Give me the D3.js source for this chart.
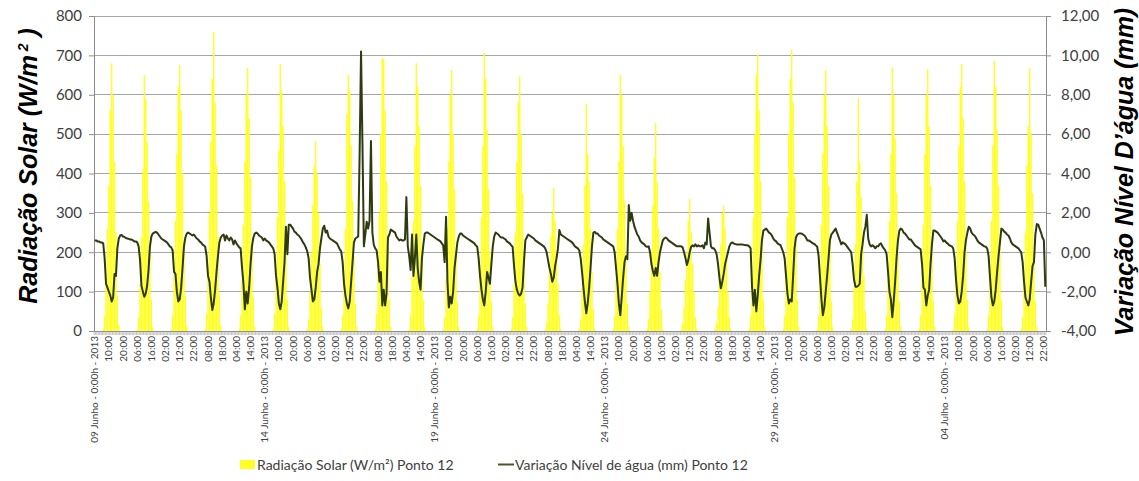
<!DOCTYPE html>
<html><head><meta charset="utf-8">
<script src="https://cdn.jsdelivr.net/npm/d3@7/dist/d3.min.js"></script>
<style>body{margin:0;background:#fff}svg{display:block}</style>
</head><body><svg id="c" width="1139" height="481"></svg>
<script>
// ---- data ----
const radHours = [6,7,8,9,10,11,12,13,14,15,16,17];
// solar radiation (W/m²), one row per day (09 Jun .. 06 Jul 2013), hours 6..17
const radiation = [
[5,40,130,260,370,560,680,600,430,250,90,15],
[5,35,120,240,410,650,590,480,330,200,80,10],
[5,40,140,280,450,620,675,560,400,230,90,15],
[5,45,150,300,480,640,760,580,420,240,95,15],
[5,40,130,270,430,600,668,540,390,220,85,10],
[5,45,140,290,460,678,610,520,380,210,80,10],
[5,30,100,200,320,420,482,400,300,170,60,10],
[5,40,130,260,550,650,610,470,330,190,70,10],
[5,45,150,300,500,694,690,560,380,220,80,10],
[5,40,140,280,470,680,620,520,370,210,80,10],
[5,35,130,260,430,600,663,500,360,200,75,10],
[5,40,140,290,470,707,640,510,360,200,75,10],
[5,35,120,250,430,580,646,500,350,190,70,10],
[5,20,70,150,240,300,363,280,200,120,40,5],
[5,30,110,220,370,576,450,380,260,150,55,5],
[5,40,130,260,430,650,600,470,330,190,70,10],
[5,30,100,200,320,440,528,380,260,150,55,5],
[5,20,60,130,200,280,335,250,170,100,35,5],
[5,20,60,130,220,300,318,260,180,100,35,5],
[5,40,140,290,500,650,703,560,380,210,80,10],
[5,40,140,290,500,640,714,580,390,220,80,10],
[5,40,130,270,450,600,663,520,370,210,75,10],
[5,30,110,220,380,591,430,340,240,140,50,5],
[5,40,130,280,450,669,600,490,350,200,75,10],
[5,40,130,270,450,600,665,520,370,210,75,10],
[5,40,140,280,470,620,678,540,380,210,80,10],
[5,40,140,280,470,686,620,510,370,210,80,10],
[5,35,120,250,420,520,667,500,350,200,75,10]
];
// water level variation (mm), one row per day, hours 0..23
const waterLevel = [
[0.6,0.6,0.55,0.55,0.5,0.5,0.45,-0.3,-1.6,-1.8,-2.0,-2.2,-2.5,-2.3,-1.1,-1.2,0.2,0.7,0.85,0.88,0.8,0.78,0.72,0.7],
[0.68,0.65,0.65,0.6,0.55,0.55,0.5,0.3,-0.4,-1.7,-2.0,-2.26,-2.1,-1.7,-0.9,0.3,0.8,0.95,1.0,1.04,1.0,0.9,0.8,0.7],
[0.65,0.6,0.55,0.5,0.4,0.3,0.25,0.1,-1.0,-1.1,-2.0,-2.5,-2.4,-1.8,-0.8,0.3,0.75,0.95,1.0,0.95,0.9,0.85,0.9,0.8],
[0.7,0.65,0.55,0.5,0.4,0.35,0.28,-0.2,-1.2,-1.5,-2.3,-2.93,-2.6,-1.9,-1.0,-0.2,0.5,0.75,0.85,0.9,0.6,0.85,0.7,0.6],
[0.75,0.65,0.4,0.6,0.45,0.35,0.25,0.2,-0.8,-1.6,-2.9,-2.0,-2.6,-1.8,-0.6,0.3,0.75,0.95,1.0,0.95,0.85,0.8,0.75,0.6],
[0.7,0.6,0.55,0.5,0.4,0.3,0.2,-0.1,-1.2,-1.8,-2.6,-2.9,-2.5,-1.5,-0.5,1.3,-0.1,1.4,1.4,1.3,1.2,1.05,1.0,0.9],
[0.85,0.75,0.65,0.5,0.4,0.25,0.05,-0.3,-1.3,-1.9,-2.5,-2.4,-1.8,-1.0,-0.6,0.2,0.7,1.2,1.35,1.0,1.1,0.8,0.7,0.65],
[0.6,0.55,0.5,0.45,0.3,0.15,0.05,-0.5,-1.6,-2.2,-2.6,-2.85,-2.5,-1.5,-0.5,0.5,0.7,0.75,0.8,5.0,10.2,5.5,0.3,0.9],
[1.55,1.2,1.6,5.65,1.0,0.37,0.2,0.1,-0.5,-1.5,-1.0,-2.7,-1.9,-2.7,-2.1,0.75,0.9,1.15,1.1,1.05,1.0,0.8,0.7,0.6],
[0.65,0.6,0.6,0.65,2.8,0.3,-0.2,-0.9,0.9,-1.2,-0.3,0.9,-0.8,-1.5,-1.9,-0.3,0.4,0.95,1.0,1.0,0.95,0.9,0.85,0.8],
[0.75,0.7,0.65,0.6,0.55,0.45,0.35,-0.5,1.8,-1.5,-2.8,-2.26,-2.6,-2.0,-0.8,-0.15,0.5,0.8,0.95,0.95,0.85,0.8,0.75,0.7],
[0.65,0.6,0.55,0.5,0.45,0.35,0.28,-0.3,-1.2,-1.9,-2.4,-2.7,-2.0,-1.0,-1.3,-1.6,-0.6,0.3,0.8,1.0,0.95,0.9,0.8,0.75],
[0.75,0.7,0.65,0.55,0.5,0.45,0.35,0.28,-0.7,-1.5,-1.9,-2.1,-2.2,-2.1,-1.8,-0.5,0.6,0.75,0.9,0.85,0.8,0.75,0.7,0.6],
[0.55,0.5,0.45,0.4,0.35,0.3,0.2,0.0,-0.4,-0.8,-1.1,-1.5,-1.3,-0.7,-0.3,0.2,1.13,0.9,0.85,0.8,0.75,0.7,0.65,0.6],
[0.55,0.5,0.4,0.3,0.25,0.2,0.1,-0.3,-1.0,-1.8,-2.5,-3.1,-2.6,-1.8,-0.8,0.3,1.0,1.04,0.95,0.95,0.85,0.8,0.75,0.65],
[0.6,0.55,0.5,0.45,0.4,0.35,0.3,0.0,-0.8,-1.6,-2.6,-3.2,-2.3,-1.3,-0.5,-0.2,-0.35,2.4,1.6,2.0,1.6,1.3,1.1,0.9],
[0.8,0.6,0.5,0.45,0.4,0.3,0.28,0.3,0.0,-0.6,-0.95,-1.2,-0.8,-1.2,-0.5,0.0,0.3,0.6,0.7,0.75,0.7,0.6,0.55,0.5],
[0.45,0.4,0.35,0.3,0.3,0.3,0.3,0.25,0.0,-0.3,-0.65,-0.4,0.0,0.28,0.35,0.3,0.4,0.3,0.35,0.3,0.3,0.35,0.2,0.5],
[0.4,1.72,1.0,0.3,0.2,0.2,0.1,-0.1,-0.6,-1.3,-1.83,-1.5,-1.1,-0.6,-0.3,0.0,0.3,0.45,0.5,0.45,0.42,0.4,0.4,0.4],
[0.4,0.4,0.38,0.37,0.35,0.35,0.3,0.2,-1.75,-2.7,-1.9,-3.0,-2.2,-1.2,-0.4,0.6,1.1,1.15,1.2,1.1,1.0,0.95,0.85,0.7],
[0.6,0.55,0.45,0.4,0.37,0.2,0.0,-0.3,-1.2,-2.1,-2.6,-2.4,-2.5,-1.2,0.2,0.75,0.9,0.95,0.95,0.95,0.9,0.85,0.75,0.6],
[0.6,0.55,0.5,0.45,0.42,0.35,0.28,-0.2,-1.3,-2.4,-3.2,-2.8,-2.0,-1.2,-0.3,0.62,0.9,1.0,1.1,1.2,1.0,0.8,0.6,0.4],
[0.5,0.45,0.4,0.3,0.2,0.1,0.0,-0.6,-1.4,-1.75,-1.75,-1.7,-1.6,-0.1,0.4,1.0,1.3,1.9,0.7,0.4,0.3,0.35,0.3,0.2],
[0.3,0.3,0.4,0.45,0.3,0.2,0.1,-0.1,-1.0,-2.0,-2.4,-3.3,-2.5,-1.5,-0.3,0.6,1.1,1.2,1.15,1.0,0.95,0.85,0.75,0.65],
[0.65,0.55,0.45,0.35,0.3,0.25,0.2,0.15,-0.6,-1.8,-1.9,-2.7,-2.2,-1.9,-0.6,0.4,1.1,1.1,1.05,1.0,0.9,0.8,0.7,0.55],
[0.6,0.5,0.45,0.37,0.33,0.3,0.2,-0.3,-1.4,-2.2,-2.6,-2.5,-2.0,-1.2,0.0,0.62,1.0,1.3,1.2,1.0,0.9,0.85,0.75,0.6],
[0.5,0.45,0.4,0.35,0.3,0.28,0.2,-0.2,-1.3,-2.3,-2.7,-2.5,-1.9,-1.0,-0.2,0.5,1.2,1.15,1.05,1.0,0.9,0.85,0.7,0.5],
[0.4,0.35,0.3,0.25,0.2,0.1,0.0,-0.5,-1.5,-2.3,-2.5,-2.7,-2.4,-1.5,-0.7,-0.5,0.9,1.43,1.4,1.2,1.0,0.75,0.6,-1.75]
];
// category-axis labels, one every 10 hourly categories
const xTickLabels = [
"09 Junho - 0:00h - 2013","10:00","20:00","06:00","16:00","02:00","12:00","22:00","08:00","18:00","04:00","14:00",
"14 Junho - 0:00h - 2013","10:00","20:00","06:00","16:00","02:00","12:00","22:00","08:00","18:00","04:00","14:00",
"19 Junho - 0:00h - 2013","10:00","20:00","06:00","16:00","02:00","12:00","22:00","08:00","18:00","04:00","14:00",
"24 Junho - 0:00h - 2013","10:00","20:00","06:00","16:00","02:00","12:00","22:00","08:00","18:00","04:00","14:00",
"29 Junho - 0:00h - 2013","10:00","20:00","06:00","16:00","02:00","12:00","22:00","08:00","18:00","04:00","14:00",
"04 Julho - 0:00h - 2013","10:00","20:00","06:00","16:00","02:00","12:00","22:00"
];
const leftTicks = [0,100,200,300,400,500,600,700,800];
const rightTicks = [-4,-2,0,2,4,6,8,10,12];
const seriesNames = ["Radiação Solar (W/m²) Ponto 12", "Variação Nível de água (mm) Ponto 12"];

// ---- build hourly series ----
const rad = [], wat = [];
radiation.forEach((row, d) => {
  for (let h = 0; h < 24; h++) {
    const k = radHours.indexOf(h);
    rad.push(k >= 0 ? row[k] : 0);
    wat.push(waterLevel[d][h]);
  }
});
const N = wat.length;

// ---- layout ----
const svg = d3.select("#c");
const L = 94, R = 1046, T = 16, B = 331;
const x = d3.scaleBand().domain(d3.range(N)).range([L, R]).padding(0);
const bw = x.bandwidth();
const yL = d3.scaleLinear().domain([0, 800]).range([B, T]);
const yR = d3.scaleLinear().domain([-4, 12]).range([B, T]);
const gridCol = "#a6a6a6", axisCol = "#8c8c8c", txtCol = "#404040";
const numFont = "Lato, 'Open Sans', sans-serif";

// gridlines
svg.append("g").selectAll("line").data(leftTicks.filter(v => v > 0)).join("line")
  .attr("x1", L).attr("x2", R).attr("y1", d => yL(d)).attr("y2", d => yL(d))
  .attr("stroke", gridCol).attr("stroke-width", 1).attr("shape-rendering", "crispEdges");

// radiation bars
svg.append("g").selectAll("rect").data(rad.map((v, i) => ({v, i})).filter(d => d.v > 0)).join("rect")
  .attr("x", d => x(d.i)).attr("width", bw)
  .attr("y", d => yL(d.v)).attr("height", d => B - yL(d.v))
  .attr("fill", "#ffff26");

// axes
const gl = svg.append("g").attr("transform", `translate(${L},0)`)
  .call(d3.axisLeft(yL).tickValues(leftTicks).tickSize(5).tickPadding(7));
const gr = svg.append("g").attr("transform", `translate(${R},0)`)
  .call(d3.axisRight(yR).tickValues(rightTicks).tickSize(5).tickPadding(10)
    .tickFormat(d => d.toFixed(2).replace(".", ",")));
[gl, gr].forEach(g => {
  g.select(".domain").attr("stroke", axisCol);
  g.selectAll(".tick line").attr("stroke", axisCol);
  g.selectAll("text").attr("fill", txtCol).style("font-family", numFont).style("font-size", "15px");
});

// x axis: hourly tick marks + labels every 10 categories
const gx = svg.append("g");
gx.append("line").attr("x1", L).attr("x2", R).attr("y1", B + 0.5).attr("y2", B + 0.5).attr("stroke", axisCol);
gx.selectAll("line.tk").data(d3.range(N + 1)).join("line").attr("class", "tk")
  .attr("x1", i => (i < N ? x(i) : R)).attr("x2", i => (i < N ? x(i) : R))
  .attr("y1", B).attr("y2", B + 4).attr("stroke", "#9a9a9a").attr("stroke-width", 0.6);
gx.selectAll("text").data(xTickLabels).join("text")
  .attr("transform", (t, k) => `translate(${x(k * 10) + bw / 2 + 3.5},${B + 5}) rotate(-90)`)
  .attr("text-anchor", "end").attr("fill", txtCol)
  .style("font-family", numFont).style("font-size", "10px").text(t => t);

// water level line
svg.append("path").datum(wat)
  .attr("d", d3.line().x((v, i) => x(i) + bw / 2).y(v => yR(v)))
  .attr("fill", "none").attr("stroke", "#2e3b10").attr("stroke-width", 2).attr("stroke-linejoin", "round");

// axis titles
const titleFont = "'Liberation Sans', Arial, sans-serif";
const lt = svg.append("text").attr("transform", "translate(37,166) rotate(-90)")
  .attr("text-anchor", "middle").attr("fill", "#000")
  .style("font-family", titleFont).style("font-size", "25px").style("font-weight", "bold").style("font-style", "italic");
lt.append("tspan").text("Radiação Solar (W/m");
lt.append("tspan").attr("dy", -9).style("font-size", "14px").text(" 2");
lt.append("tspan").attr("dy", 9).text(" )");
svg.append("text").attr("transform", "translate(1133,172) rotate(-90)")
  .attr("text-anchor", "middle").attr("fill", "#000")
  .style("font-family", titleFont).style("font-size", "25px").style("font-weight", "bold").style("font-style", "italic")
  .text("Variação Nível D’água (mm)");

// legend
const lg = svg.append("g").style("font-family", numFont).style("font-size", "14px");
lg.append("rect").attr("x", 240).attr("y", 460).attr("width", 15).attr("height", 9).attr("fill", "#ffff26");
lg.append("text").attr("x", 257).attr("y", 470).attr("fill", txtCol).text(seriesNames[0]);
lg.append("line").attr("x1", 498).attr("x2", 514).attr("y1", 464.5).attr("y2", 464.5).attr("stroke", "#4a5530").attr("stroke-width", 2);
lg.append("text").attr("x", 515).attr("y", 470).attr("fill", txtCol).text(seriesNames[1]);
</script></body></html>
